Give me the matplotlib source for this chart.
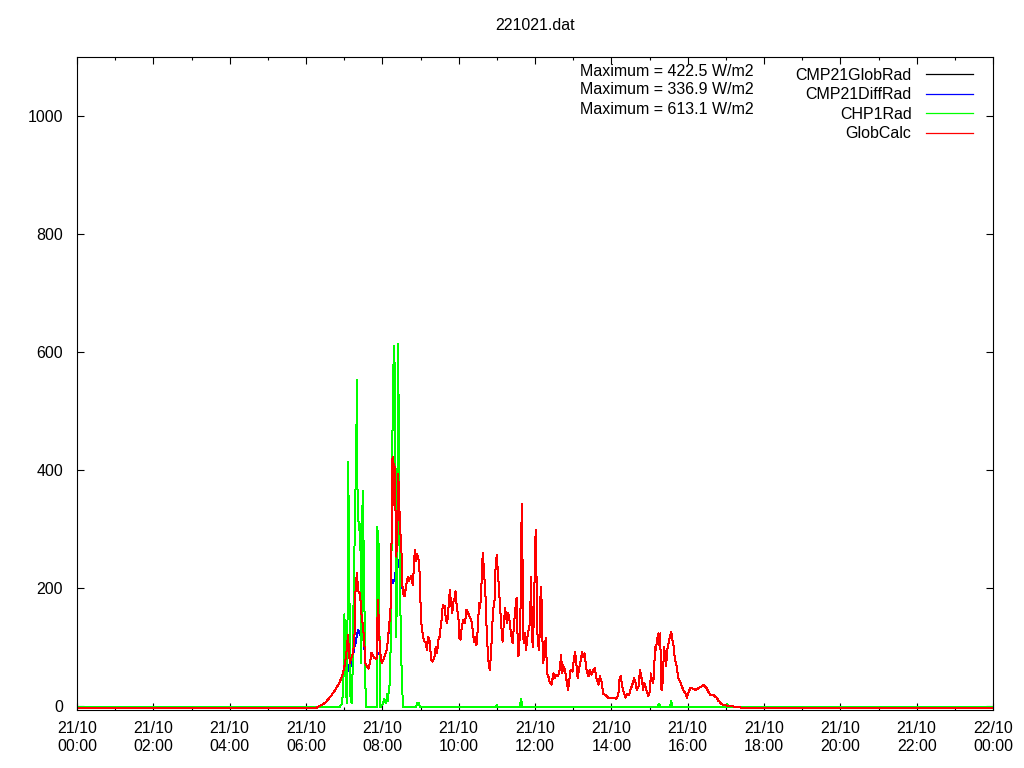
import numpy as np
import matplotlib
matplotlib.use("Agg")
import matplotlib.pyplot as plt

plt.rcParams['font.family'] = ['Liberation Sans', 'DejaVu Sans']

title = "221021.dat"
series_names = ["CMP21GlobRad", "CMP21DiffRad", "CHP1Rad", "GlobCalc"]
series_colors = ["#000000", "#0000ff", "#00ff00", "#ff0000"]
maxima = [422.5, 336.9, 613.1]

# GlobCalc (red) - minutes since 21/10 00:00, W/m2
globcalc_min = [0, 375, 382, 390, 398, 406, 413, 418, 421, 424, 426, 428, 429, 431, 434, 436, 438, 440,
                442, 445, 447, 450, 452, 453, 455, 458, 461, 463, 465, 468, 471, 473, 475, 476, 479, 481,
                484, 487, 489, 491, 493, 494, 495, 496, 497, 498, 499, 500, 501, 502, 504, 505, 506, 508,
                510, 512, 515, 518, 520, 522, 525, 528, 531, 533, 535, 538, 541, 544, 546, 548, 550, 552,
                554, 557, 559, 562, 564, 566, 568, 570, 573, 575, 578, 580, 582, 585, 586, 588, 590, 591,
                594, 595, 597, 600, 601, 603, 605, 607, 610, 612, 615, 617, 620, 622, 624, 625, 628, 630,
                632, 633, 635, 637, 638, 640, 642, 644, 645, 647, 649, 651, 653, 655, 657, 658, 660, 662,
                663, 666, 667, 669, 671, 673, 674, 676, 678, 680, 682, 685, 687, 689, 691, 693, 694, 696,
                698, 699, 700, 702, 704, 706, 708, 710, 712, 714, 715, 717, 719, 721, 722, 724, 726, 727,
                729, 730, 732, 733, 735, 737, 739, 741, 743, 746, 749, 751, 754, 756, 759, 761, 763, 764,
                767, 770, 772, 774, 776, 779, 781, 783, 785, 787, 789, 792, 794, 796, 798, 801, 804, 806,
                809, 812, 814, 817, 820, 822, 825, 827, 830, 833, 835, 840, 846, 848, 851, 853, 855, 857,
                860, 862, 865, 868, 870, 873, 876, 878, 880, 883, 885, 888, 890, 892, 895, 897, 898, 901,
                902, 904, 906, 908, 909, 910, 912, 914, 915, 917, 918, 920, 922, 923, 926, 928, 930, 932,
                934, 936, 938, 940, 943, 945, 948, 951, 953, 956, 959, 961, 964, 966, 972, 977, 982, 985,
                987, 990, 992, 995, 1000, 1003, 1006, 1008, 1011, 1013, 1016, 1019, 1024, 1031, 1039, 1050,
                1440]
globcalc_val = [-4, -4, 0, 5, 15, 27, 40, 55, 70, 95, 120, 85, 73, 80, 90, 110, 202, 225,
                195, 190, 157, 130, 100, 73, 69, 63, 75, 90, 85, 81, 80, 179, 130, 95, 73, 77,
                85, 95, 115, 140, 168, 250, 310, 422, 380, 410, 340, 405, 300, 253, 320, 394, 360, 300,
                264, 191, 186, 208, 218, 212, 220, 205, 264, 245, 257, 242, 143, 117, 109, 109, 95, 117,
                112, 78, 75, 83, 100, 90, 112, 117, 145, 171, 169, 145, 140, 179, 196, 174, 157, 174,
                183, 194, 169, 145, 115, 112, 135, 145, 140, 163, 157, 151, 145, 129, 109, 117, 103, 129,
                174, 166, 179, 242, 259, 225, 191, 129, 106, 73, 61, 90, 140, 171, 183, 236, 256, 219,
                205, 151, 135, 109, 140, 166, 157, 140, 157, 145, 123, 106, 140, 163, 183, 103, 84, 117,
                196, 343, 278, 106, 123, 95, 117, 129, 140, 219, 117, 100, 196, 298, 242, 117, 95, 112,
                202, 191, 100, 72, 100, 115, 55, 50, 41, 36, 55, 47, 53, 50, 61, 86, 55, 69,
                61, 41, 27, 44, 61, 58, 78, 92, 72, 47, 61, 78, 92, 83, 89, 61, 50, 61,
                53, 61, 64, 44, 36, 50, 39, 21, 19, 16, 14, 14, 14, 12, 19, 47, 50, 33,
                21, 14, 21, 19, 27, 36, 47, 39, 27, 33, 61, 44, 27, 39, 27, 21, 16, 27,
                55, 44, 39, 78, 100, 95, 112, 123, 103, 123, 30, 27, 78, 100, 67, 95, 106, 117,
                126, 112, 100, 78, 67, 47, 41, 33, 27, 22, 14, 22, 30, 30, 27, 30, 33, 36,
                33, 30, 25, 19, 19, 16, 14, 9, 6, 3, 2, 1, 0, -1, -2, -4,
                -4]

# CMP21GlobRad (black) read as identical to GlobCalc within line width
glob_min = list(globcalc_min)
glob_val = list(globcalc_val)

# CMP21DiffRad (blue): equal to GlobCalc except during the morning window below
diff_window = (418, 512)
diff_morning_min = [418, 421, 424, 426, 428, 429, 431, 434, 436, 438, 440, 442, 445, 447, 450, 452, 453,
                    455, 458, 461, 463, 465, 468, 471, 473, 475, 476, 479, 481, 484, 487, 489, 491,
                    493, 494, 495, 496, 497, 498, 499, 500, 501, 502, 504, 505, 506, 508, 510, 512]
diff_morning_val = [55, 60, 65, 70, 60, 55, 78, 85, 100, 106, 120, 129, 120, 117, 118, 95, 73,
                    69, 63, 75, 90, 85, 81, 80, 90, 90, 88, 73, 77, 85, 95, 115, 135,
                    160, 205, 210, 213, 208, 212, 213, 215, 230, 225, 247, 240, 238, 230, 240, 191]

# CHP1Rad (green)
chp1_min = [0, 413, 417, 419, 420, 421, 422, 424, 425, 426, 427, 429, 430, 432, 433, 434, 436, 437,
            439, 440, 441, 443, 445, 446, 447, 449, 450, 452, 453, 455, 471, 472, 474, 476, 477, 481,
            483, 486, 488, 489, 490, 492, 493, 494, 495, 496, 498, 499, 500, 501, 502, 503, 504, 505,
            506, 507, 508, 510, 512, 513, 533, 535, 537, 539, 658, 660, 662, 696, 698, 700, 913, 915,
            917, 932, 934, 936, 1020, 1022, 1024, 1440]
chp1_val = [-2, -2, 5, 50, 155, 140, 60, 5, 60, 413, 343, 100, 12, 5, 44, 129, 253, 326,
            428, 553, 360, 298, 309, 242, 73, 365, 310, 157, 40, -2, -2, 303, 275, 73, -2, 3,
            12, 4, 20, 8, 27, 38, 100, 157, 411, 467, 611, 590, 530, 350, 117, 240, 422, 613,
            411, 270, 185, 73, 9, -2, -2, 5, 5, -2, -2, 1, -2, -2, 12, -2, -2, 4,
            -2, -2, 8, -2, -2, 3, -2, -2]

tick_hours = list(range(0, 25, 2))
tick_labels = ["21/10\n%02d:00" % h for h in range(0, 24, 2)] + ["22/10\n00:00"]
y_ticks = [0, 200, 400, 600, 800, 1000]

# build blue series
gm = np.array(globcalc_min, dtype=float)
gv = np.array(globcalc_val, dtype=float)
outside = (gm < diff_window[0]) | (gm > diff_window[1])
dm = np.concatenate([gm[outside], np.array(diff_morning_min, dtype=float)])
dv = np.concatenate([gv[outside], np.array(diff_morning_val, dtype=float)])
order = np.argsort(dm, kind="stable")
dm, dv = dm[order], dv[order]

fig = plt.figure(figsize=(10.24, 7.68), dpi=100)
ax = fig.add_axes([77 / 1024, (768 - 710) / 768, (993 - 77) / 1024, (710 - 57) / 768])

kw = dict(lw=0.72, antialiased=False)
ax.plot(np.array(glob_min) / 60, glob_val, color=series_colors[0], label=series_names[0], **kw)
ax.plot(dm / 60, dv, color=series_colors[1], label=series_names[1], **kw)
ax.plot(np.array(chp1_min) / 60, chp1_val, color=series_colors[2], label=series_names[2], **kw)
ax.plot(gm / 60, gv, color=series_colors[3], label=series_names[3], **kw)

ax.set_xlim(0, 24)
ax.set_ylim(-7, 1100)
ax.set_xticks(tick_hours)
ax.set_xticklabels(tick_labels)
ax.set_xticks(range(0, 25), minor=True)
ax.set_yticks(y_ticks)
ax.set_yticklabels([str(v) for v in y_ticks])

fs = 11.5
ax.tick_params(axis='both', which='major', direction='in', length=4.8, width=0.8,
               top=True, right=True, labelsize=fs, colors='black')
ax.tick_params(axis='x', which='minor', direction='in', length=2.3, width=0.8, top=True, bottom=True)
ax.tick_params(axis='y', which='major', pad=10)
ax.tick_params(axis='x', which='major', pad=8)
for s in ax.spines.values():
    s.set_linewidth(0.8)
    s.set_color('black')

fig.text(535 / 1024, 1 - 26 / 768, title, ha='center', va='center', fontsize=fs)

for i, m in enumerate(maxima):
    fig.text(580 / 1024, 1 - (71 + 19 * i) / 768, "Maximum = %.1f W/m2" % m,
             ha='left', va='center', fontsize=fs)

leg = ax.legend(loc='upper right', bbox_to_anchor=(973 / 1024, 1 - 68 / 768),
                bbox_transform=fig.transFigure, frameon=False, markerfirst=False,
                fontsize=fs, handlelength=2.95, handletextpad=0.9, labelspacing=0.28,
                borderpad=0, borderaxespad=0)
for line, c in zip(leg.get_lines(), series_colors):
    line.set_antialiased(True)
    line.set_linewidth(0.9)
    line.set_color(c)

fig.savefig("out.png", dpi=100)
